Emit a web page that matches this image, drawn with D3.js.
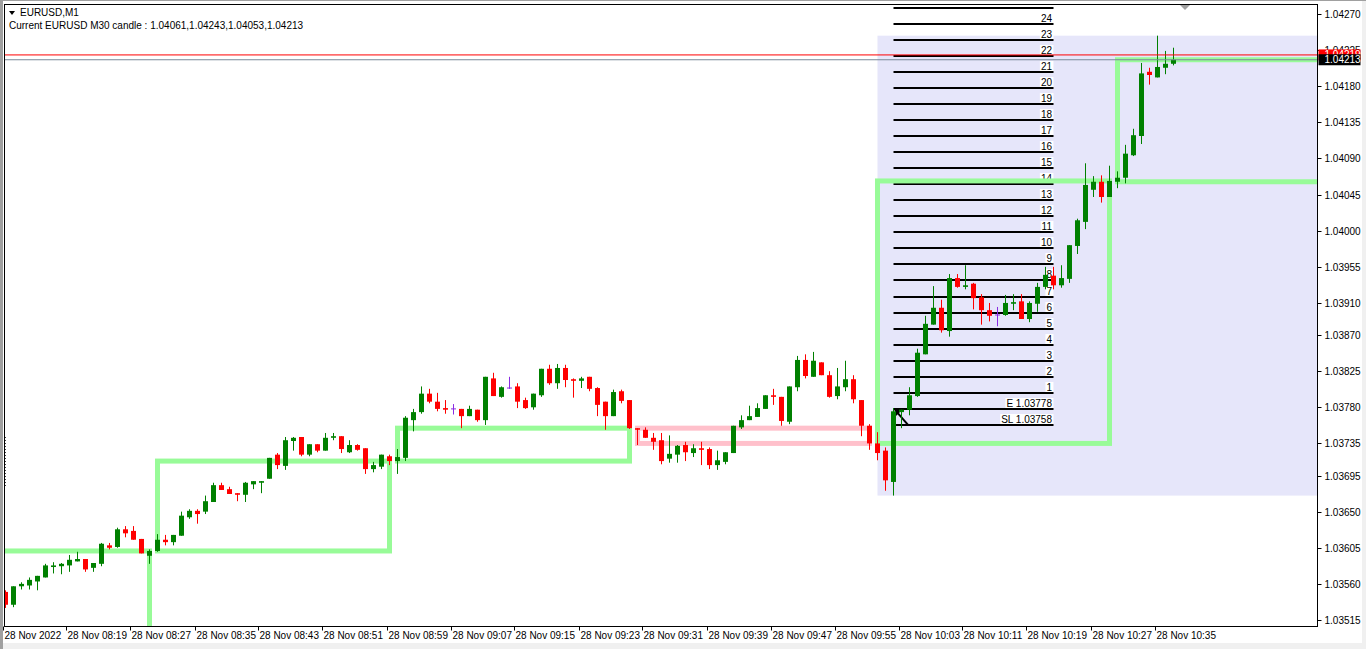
<!DOCTYPE html>
<html><head><meta charset="utf-8">
<script src="https://cdn.jsdelivr.net/npm/d3@7"></script>
<style>
body{margin:0;background:#fff;}
svg{display:block;font-family:"Liberation Sans",Arial,sans-serif;font-size:10px;}
</style>
</head><body>
<svg id="c" width="1366" height="649"></svg>
<script>
// ---------------- DATA ----------------
const symbolTitle = "EURUSD,M1";
const infoText = "Current EURUSD M30 candle : 1.04061,1.04243,1.04053,1.04213";
const firstMinute = 11; // first candle 08:11
const open = [1.03550,1.03534,1.03557,1.03558,1.03563,1.03568,1.03581,1.03582,1.03583,1.03588,
1.03591,1.03580,1.03585,1.03608,1.03606,1.03628,1.03626,1.03616,1.03595,1.03601,
1.03615,1.03612,1.03620,1.03643,1.03651,1.03650,1.03662,1.03683,1.03678,1.03673,
1.03671,1.03684,1.03686,1.03691,1.03721,1.03707,1.03738,1.03743,1.03721,1.03734,
1.03726,1.03742,1.03744,1.03724,1.03733,1.03729,1.03703,1.03706,1.03719,1.03713,
1.03717,1.03764,1.03774,1.03797,1.03787,1.03779,1.03778,1.03778,1.03769,1.03777,
1.03764,1.03816,1.03793,1.03804,1.03806,1.03789,1.03780,1.03795,1.03828,1.03810,
1.03829,1.03815,1.03813,1.03818,1.03804,1.03787,1.03769,1.03800,1.03789,1.03754,
1.03752,1.03742,1.03739,1.03716,1.03721,1.03733,1.03723,1.03729,1.03728,1.03708,
1.03712,1.03723,1.03755,1.03764,1.03768,1.03778,1.03795,1.03793,1.03762,1.03805,
1.03839,1.03818,1.03836,1.03820,1.03794,1.03805,1.03815,1.03789,1.03757,1.03735,
1.03726,1.03687,1.03774,1.03777,1.03794,1.03846,1.03883,1.03904,1.03875,1.03941,
1.03930,1.03934,1.03917,1.03901,1.03895,1.03895,1.03909,1.03912,1.03890,1.03909,
1.03930,1.03944,1.03932,1.03940,1.03981,1.04011,1.04051,1.04061,1.04042,1.04061,
1.04066,1.04094,1.04118,1.04198,1.04191,1.04203,1.04208];
const high = [1.03552,1.03557,1.03562,1.03568,1.03570,1.03585,1.03587,1.03586,1.03596,1.03600,
1.03591,1.03586,1.03611,1.03611,1.03630,1.03632,1.03632,1.03616,1.03603,1.03622,
1.03621,1.03621,1.03650,1.03653,1.03653,1.03670,1.03686,1.03686,1.03681,1.03673,
1.03687,1.03688,1.03688,1.03717,1.03723,1.03743,1.03743,1.03743,1.03734,1.03734,
1.03748,1.03748,1.03744,1.03739,1.03734,1.03729,1.03712,1.03721,1.03721,1.03728,
1.03769,1.03778,1.03806,1.03803,1.03798,1.03789,1.03784,1.03778,1.03782,1.03777,
1.03818,1.03823,1.03806,1.03818,1.03810,1.03792,1.03797,1.03828,1.03833,1.03834,
1.03833,1.03816,1.03818,1.03818,1.03805,1.03787,1.03802,1.03802,1.03789,1.03754,
1.03755,1.03748,1.03748,1.03745,1.03733,1.03737,1.03734,1.03737,1.03730,1.03726,
1.03724,1.03757,1.03770,1.03782,1.03785,1.03795,1.03803,1.03793,1.03806,1.03844,
1.03846,1.03849,1.03836,1.03825,1.03829,1.03838,1.03820,1.03789,1.03759,1.03749,
1.03730,1.03779,1.03777,1.03805,1.03853,1.03894,1.03931,1.03914,1.03946,1.03946,
1.03957,1.03935,1.03921,1.03910,1.03905,1.03920,1.03921,1.03921,1.03912,1.03935,
1.03955,1.03955,1.03957,1.03982,1.04015,1.04084,1.04068,1.04069,1.04081,1.04074,
1.04107,1.04127,1.04209,1.04203,1.04243,1.04224,1.04228];
const low = [1.03530,1.03531,1.03553,1.03553,1.03552,1.03568,1.03573,1.03572,1.03575,1.03588,
1.03575,1.03575,1.03582,1.03603,1.03605,1.03618,1.03615,1.03598,1.03585,1.03600,
1.03608,1.03608,1.03620,1.03641,1.03635,1.03647,1.03662,1.03677,1.03672,1.03663,
1.03662,1.03678,1.03673,1.03691,1.03703,1.03702,1.03726,1.03719,1.03719,1.03724,
1.03726,1.03739,1.03723,1.03723,1.03726,1.03697,1.03699,1.03703,1.03708,1.03697,
1.03713,1.03750,1.03772,1.03785,1.03775,1.03772,1.03771,1.03754,1.03769,1.03762,
1.03758,1.03794,1.03792,1.03803,1.03779,1.03778,1.03777,1.03793,1.03808,1.03803,
1.03805,1.03792,1.03804,1.03800,1.03769,1.03752,1.03769,1.03785,1.03753,1.03733,
1.03742,1.03727,1.03709,1.03711,1.03711,1.03713,1.03718,1.03708,1.03703,1.03702,
1.03709,1.03723,1.03753,1.03764,1.03768,1.03778,1.03783,1.03757,1.03759,1.03800,
1.03816,1.03818,1.03820,1.03792,1.03790,1.03800,1.03785,1.03744,1.03727,1.03714,
1.03676,1.03670,1.03754,1.03770,1.03793,1.03846,1.03883,1.03873,1.03868,1.03929,
1.03927,1.03902,1.03883,1.03887,1.03881,1.03894,1.03901,1.03890,1.03886,1.03899,
1.03927,1.03927,1.03929,1.03935,1.03971,1.04002,1.04042,1.04035,1.04042,1.04053,
1.04059,1.04093,1.04108,1.04182,1.04191,1.04195,1.04206];
const close = [1.03534,1.03557,1.03560,1.03565,1.03570,1.03583,1.03583,1.03585,1.03590,1.03591,
1.03578,1.03586,1.03610,1.03605,1.03628,1.03623,1.03615,1.03598,1.03601,1.03615,
1.03612,1.03621,1.03645,1.03651,1.03647,1.03663,1.03683,1.03677,1.03672,1.03671,
1.03686,1.03688,1.03688,1.03717,1.03708,1.03739,1.03742,1.03721,1.03734,1.03726,
1.03742,1.03744,1.03728,1.03733,1.03727,1.03703,1.03708,1.03721,1.03713,1.03718,
1.03767,1.03774,1.03797,1.03787,1.03778,1.03777,1.03778,1.03769,1.03778,1.03764,
1.03818,1.03794,1.03805,1.03804,1.03787,1.03779,1.03797,1.03828,1.03810,1.03829,
1.03814,1.03813,1.03816,1.03803,1.03783,1.03769,1.03799,1.03788,1.03754,1.03752,
1.03742,1.03737,1.03713,1.03722,1.03732,1.03724,1.03729,1.03727,1.03708,1.03714,
1.03724,1.03757,1.03764,1.03769,1.03779,1.03795,1.03793,1.03763,1.03806,1.03839,
1.03819,1.03838,1.03820,1.03793,1.03806,1.03815,1.03790,1.03757,1.03735,1.03723,
1.03689,1.03775,1.03777,1.03795,1.03848,1.03884,1.03904,1.03876,1.03941,1.03930,
1.03932,1.03916,1.03901,1.03894,1.03895,1.03910,1.03911,1.03890,1.03910,1.03930,
1.03945,1.03932,1.03941,1.03982,1.04013,1.04057,1.04061,1.04042,1.04062,1.04066,
1.04096,1.04119,1.04196,1.04194,1.04204,1.04208,1.04213];
const m30PrevOpen = 1.03480;   // open of the 08:00 M30 bar (below visible range)
const bid = 1.04213, ask = 1.04219;
const levelPrices = [1.03758,1.03778,1.03798,1.03818,1.03838,1.03858,1.03878,1.03898,1.03918,1.03938,
1.03958,1.03978,1.03998,1.04018,1.04038,1.04058,1.04078,1.04098,1.04118,1.04138,1.04158,1.04178,
1.04198,1.04218,1.04238,1.04258,1.04278];
const levelLabels = ["SL 1.03758","E 1.03778","1","2","3","4","5","6","7","8","9","10","11","12","13",
"14","15","16","17","18","19","20","21","22","23","24","25"];
const levelFrom = 111, levelTo = 131;
const priceTicks = [1.04270,1.04225,1.04180,1.04135,1.04090,1.04045,1.04000,1.03955,1.03910,1.03870,
1.03825,1.03780,1.03735,1.03695,1.03650,1.03605,1.03560,1.03515];
const priceTickLabels = ["1.04270","1.04225","1.04180","1.04135","1.04090","1.04045","1.04000","1.03955","1.03910","1.03870",
"1.03825","1.03780","1.03735","1.03695","1.03650","1.03605","1.03560","1.03515"];
const timeTickIdx = [0,8,16,24,32,40,48,56,64,72,80,88,96,104,112,120,128,136,144];
const timeTickLabels = ["28 Nov 2022","28 Nov 08:19","28 Nov 08:27","28 Nov 08:35","28 Nov 08:43","28 Nov 08:51",
"28 Nov 08:59","28 Nov 09:07","28 Nov 09:15","28 Nov 09:23","28 Nov 09:31","28 Nov 09:39","28 Nov 09:47",
"28 Nov 09:55","28 Nov 10:03","28 Nov 10:11","28 Nov 10:19","28 Nov 10:27","28 Nov 10:35"];

// ---------------- LAYOUT ----------------
const L = 4.5, T = 4.5, R = 1317.5, B = 626.5;
const svg = d3.select("#c");
const n = open.length;
const x = d3.scaleLinear().domain([0, n - 1]).range([5.5, 5.5 + 8 * (n - 1)]);
const y = d3.scaleLinear().domain([1.03515, 1.04270]).range([620, 14]);

// outer window frame
svg.append("rect").attr("x",0).attr("y",0).attr("width",1366).attr("height",649).attr("fill","#fff");
svg.append("rect").attr("x",1362).attr("y",0).attr("width",4).attr("height",649).attr("fill","#f0f0f0");
svg.append("rect").attr("x",0).attr("y",643).attr("width",1366).attr("height",6).attr("fill","#f0f0f0");
svg.append("line").attr("x1",0).attr("x2",1366).attr("y1",0.5).attr("y2",0.5).attr("stroke","#a0a0a0");
svg.append("line").attr("x1",1.5).attr("x2",1.5).attr("y1",0).attr("y2",649).attr("stroke","#a0a0a0").attr("stroke-width",3);

svg.append("defs").append("clipPath").attr("id","plot")
  .append("rect").attr("x",L).attr("y",T).attr("width",R-L).attr("height",B-T);
const plot = svg.append("g").attr("clip-path","url(#plot)");

// H1 range (lavender) from 10:00
const h1Start = 60 - firstMinute + 60; // index of 10:00
const h1Hi = d3.max(high.slice(h1Start)), h1Lo = d3.min(low.slice(h1Start));
plot.append("rect").attr("x",x(h1Start)).attr("y",y(h1Hi))
  .attr("width",x(h1Start+59)-x(h1Start)).attr("height",y(h1Lo)-y(h1Hi)).attr("fill","#e6e6fa");

// trade levels
const lvLines = plot.append("g"), lvBg = plot.append("g"), lvTx = plot.append("g");
levelPrices.forEach((p,i)=>{
  const yy = Math.round(y(p));
  lvLines.append("line").attr("x1",x(levelFrom)).attr("x2",x(levelTo)).attr("y1",yy).attr("y2",yy)
    .attr("stroke","#000").attr("stroke-width",2);
  if (yy - 12 < T) return; // label would lie above the chart window
  const t = lvTx.append("text").attr("x",x(levelTo)-1.5).attr("y",yy-2).attr("text-anchor","end")
    .attr("fill","#000").text(levelLabels[i]);
  const bb = t.node().getBBox();
  lvBg.append("rect").attr("x",bb.x-1).attr("y",yy-11).attr("width",bb.width+2).attr("height",10)
    .attr("fill","#fff");
});

// M30 boxes
const groups = [];
for (let i=0;i<n;i++){
  const g = Math.floor((firstMinute+i)/30);
  if(!groups[g]) groups[g] = {first:i,last:i};
  groups[g].last = i;
}
groups.forEach((gr,gi)=>{
  const startIdx = gi*30 - firstMinute, endIdx = gi*30 + 29 - firstMinute;
  const o = startIdx < 0 ? m30PrevOpen : open[gr.first];
  const c = close[gr.last];
  const col = c >= o ? "#98fb98" : "#ffc0cb";
  const y1 = y(Math.max(o,c)), y2 = y(Math.min(o,c));
  plot.append("rect").attr("x",x(startIdx)).attr("y",y1).attr("width",x(endIdx)-x(startIdx))
    .attr("height",Math.max(0.5,y2-y1)).attr("fill","none").attr("stroke",col).attr("stroke-width",5);
});

// arrow from entry to stop loss
const ax1 = x(levelFrom)+1.5, ay1 = y(levelPrices[1])+1, ax2 = x(levelFrom+2)-1.5, ay2 = y(levelPrices[0]);
plot.append("line").attr("x1",ax1).attr("y1",ay1).attr("x2",ax2).attr("y2",ay2).attr("stroke","#000").attr("stroke-width",2);
plot.append("path").attr("d",`M${ax1},${ay1} l0,7 l7,-7 z`).attr("fill","#000");

// candles
const cg = plot.append("g");
for (let i=0;i<n;i++){
  const cx = x(i);
  const o=open[i], c=close[i];
  const col = c>o ? "#008000" : (c<o ? "#ff0000" : "#8a2be2");
  cg.append("line").attr("x1",cx).attr("x2",cx).attr("y1",y(high[i])).attr("y2",y(low[i]))
    .attr("stroke",col).attr("stroke-width",1);
  if (c===o){
    cg.append("line").attr("x1",cx-2.5).attr("x2",cx+2.5).attr("y1",y(o)).attr("y2",y(o)).attr("stroke",col).attr("stroke-width",1);
  } else {
    const yt = y(Math.max(o,c)), yb = y(Math.min(o,c));
    cg.append("rect").attr("x",cx-2.5).attr("y",yt).attr("width",5).attr("height",Math.max(1.5,yb-yt)).attr("fill",col);
  }
}

// bid / ask lines
plot.append("line").attr("x1",L).attr("x2",R).attr("y1",y(ask)).attr("y2",y(ask)).attr("stroke","#ff0000").attr("stroke-width",1);
plot.append("line").attr("x1",L).attr("x2",R).attr("y1",y(bid)).attr("y2",y(bid)).attr("stroke","#778899").attr("stroke-width",1);

// small dotted marker at the left edge
svg.append("line").attr("x1",5.5).attr("x2",5.5).attr("y1",437).attr("y2",487)
  .attr("stroke","#404040").attr("stroke-dasharray","1,2");

// frame
svg.append("rect").attr("x",L).attr("y",T).attr("width",R-L).attr("height",B-T).attr("fill","none").attr("stroke","#000");

// price axis
const pa = svg.append("g");
priceTicks.forEach((p,i)=>{
  const yy = Math.round(y(p))+0.5;
  pa.append("line").attr("x1",R).attr("x2",R+4).attr("y1",yy).attr("y2",yy).attr("stroke","#000");
  pa.append("text").attr("x",R+7).attr("y",yy+3.5).attr("fill","#000").text(priceTickLabels[i]);
});
// ask & bid labels
const fmt = d3.format(".5f");
pa.append("rect").attr("x",R+1).attr("y",y(ask)-5.5).attr("width",42).attr("height",11).attr("fill","#ff0000");
pa.append("text").attr("x",R+7).attr("y",y(ask)+3.5).attr("fill","#fff").text(fmt(ask));
pa.append("rect").attr("x",R+1).attr("y",y(bid)-5.5).attr("width",42).attr("height",11).attr("fill","#000");
pa.append("text").attr("x",R+7).attr("y",y(bid)+3.5).attr("fill","#fff").text(fmt(bid));

// time axis
const ta = svg.append("g");
timeTickIdx.forEach((k,i)=>{
  const xx = Math.round(x(k)-3)+0.5;
  ta.append("line").attr("x1",xx).attr("x2",xx).attr("y1",B).attr("y2",B+4).attr("stroke","#000");
  ta.append("text").attr("x",xx+1).attr("y",B+12.5).attr("fill","#000").text(timeTickLabels[i]);
});

// chart shift marker
svg.append("path").attr("d","M1180,5 L1190,5 L1185,10 Z").attr("fill","#a0a0a0");

// header
svg.append("path").attr("d","M9,11 L15,11 L12,15 Z").attr("fill","#000");
svg.append("text").attr("x",20).attr("y",16).attr("fill","#000").text(symbolTitle);
svg.append("text").attr("x",9).attr("y",28.5).attr("fill","#000").text(infoText);
</script>
</body></html>
